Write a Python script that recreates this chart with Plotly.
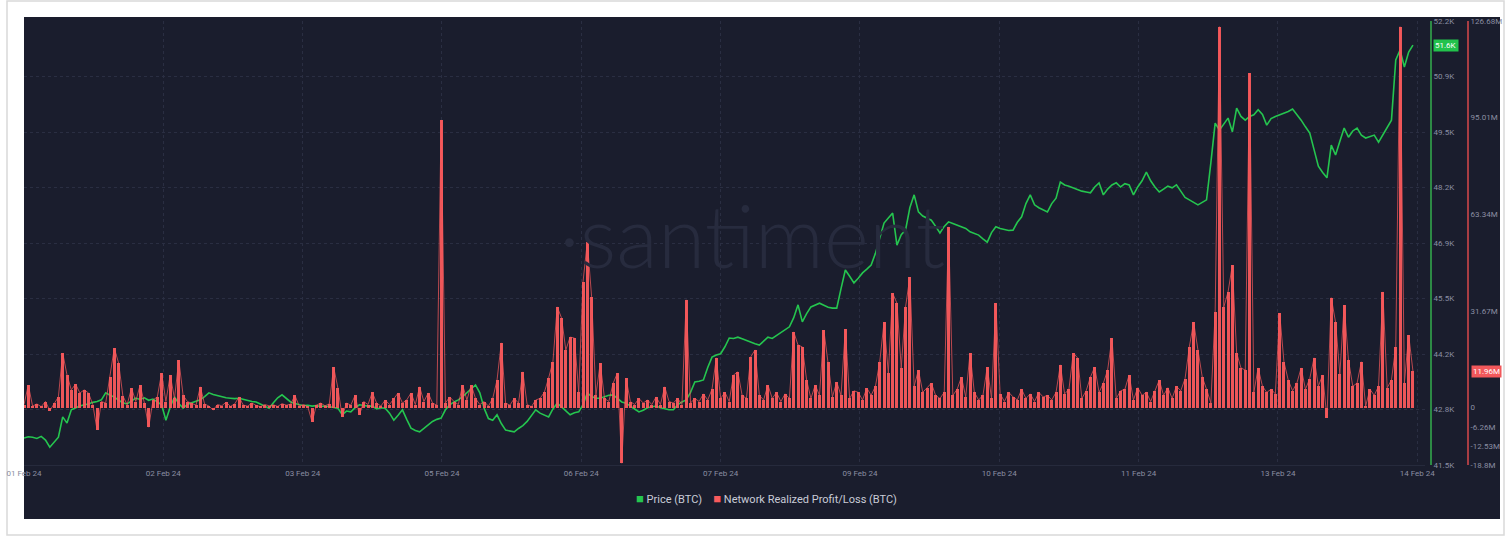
import pandas as pd
import plotly.graph_objects as go

# ---------------- data (hourly, starting 01 Feb 2024 00:00) ----------------
start_time = "2024-02-01 00:00"

price_k = [
    # 01 Feb
    42.15, 42.18, 42.17, 42.14, 42.19, 42.10, 41.93, 42.05, 42.17, 42.66, 42.51, 42.83,
    42.88, 42.92, 42.95, 42.97, 43.01, 43.03, 43.07, 43.24, 43.18, 43.14, 43.06, 43.00,
    # 02 Feb
    42.97, 43.05, 43.11, 43.08, 43.12, 43.06, 43.09, 43.02, 42.95, 42.58, 42.90, 43.14,
    42.98, 42.87, 42.96, 43.00, 43.04, 43.07, 43.15, 43.24, 43.20, 43.17, 43.14, 43.12,
    # 03 Feb
    43.11, 43.10, 43.11, 43.08, 43.05, 43.03, 43.02, 42.97, 42.93, 42.87, 43.00, 43.12,
    43.19, 43.10, 43.02, 42.98, 42.95, 42.93, 42.94, 42.92, 42.93, 42.91, 42.92, 42.90,
    # 04 Feb
    42.89, 42.87, 42.71, 42.80, 42.78, 42.88, 42.95, 42.93, 42.92, 42.92, 42.85, 42.88,
    42.87, 42.75, 42.58, 42.70, 42.83, 42.60, 42.39, 42.33, 42.30, 42.38, 42.46, 42.55,
    # 05 Feb
    42.60, 42.63, 42.83, 42.95, 43.02, 43.07, 43.15, 43.25, 43.35, 43.43, 43.24, 42.87,
    42.62, 42.58, 42.71, 42.50, 42.34, 42.32, 42.30, 42.38, 42.45, 42.55, 42.70, 42.83,
    # 06 Feb
    42.75, 42.70, 42.66, 42.85, 42.99, 42.90, 42.80, 42.71, 42.76, 42.78, 42.95, 43.24,
    43.15, 43.11, 43.11, 43.15, 43.18, 43.19, 43.10, 43.02, 42.99, 42.93, 42.85, 42.78,
    # 07 Feb
    42.82, 42.88, 42.90, 42.92, 42.88, 42.85, 42.83, 42.83, 42.95, 43.02, 43.07, 43.25,
    43.50, 43.52, 43.55, 43.85, 44.10, 44.15, 44.18, 44.35, 44.56, 44.55, 44.58, 44.54,
    # 08 Feb
    44.50, 44.45, 44.42, 44.39, 44.48, 44.58, 44.55, 44.62, 44.68, 44.75, 44.83, 45.05,
    45.36, 44.95, 45.15, 45.31, 45.35, 45.40, 45.35, 45.30, 45.28, 45.28, 45.75, 46.20,
    # 09 Feb
    46.05, 45.89, 46.00, 46.13, 46.22, 46.32, 46.60, 47.00, 47.33, 47.45, 47.57, 46.80,
    47.05, 47.16, 47.70, 48.01, 47.60, 47.50, 47.45, 47.40, 47.25, 47.09, 47.25, 47.36,
    # 10 Feb
    47.32, 47.28, 47.24, 47.20, 47.12, 47.08, 47.04, 46.95, 46.87, 47.10, 47.24, 47.20,
    47.18, 47.15, 47.16, 47.35, 47.48, 47.80, 48.01, 47.77, 47.70, 47.65, 47.60, 47.80,
    # 11 Feb
    47.93, 48.32, 48.25, 48.22, 48.18, 48.15, 48.10, 48.08, 48.06, 48.20, 48.30, 48.01,
    48.15, 48.25, 48.30, 48.20, 48.28, 48.25, 48.01, 48.20, 48.35, 48.56, 48.35, 48.20,
    # 12 Feb
    48.08, 48.15, 48.22, 48.18, 48.25, 48.10, 47.95, 47.89, 47.82, 47.77, 47.83, 47.89,
    48.78, 49.74, 49.57, 49.72, 49.86, 49.53, 50.10, 49.90, 49.81, 49.90, 49.94, 50.06,
    # 13 Feb
    49.95, 49.69, 49.85, 49.90, 49.94, 49.98, 50.02, 50.08, 49.95, 49.81, 49.65, 49.50,
    49.10, 48.70, 48.55, 48.42, 49.21, 48.97, 49.30, 49.62, 49.40, 49.55, 49.62, 49.45,
    # 14 Feb
    49.38, 49.42, 49.45, 49.28, 49.45, 49.62, 49.81, 51.26, 51.50, 51.09, 51.45, 51.62,
]

net_m = [
    # 01 Feb
    1.0, 7.4, 0.5, 1.2, 0.3, 2.0, -1.0, 1.5, 3.5, 17.9, 10.7, 5.8,
    7.7, 4.8, 5.8, 4.8, 1.0, -7.3, 2.0, 1.5, 10.0, 19.5, 14.6, 3.8,
    # 02 Feb
    1.0, 6.4, 2.0, 7.4, 1.5, -6.4, 2.5, 3.5, 11.3, 2.0, 10.7, 3.0,
    15.6, 4.0, 2.0, 1.5, 0.8, 6.8, 1.2, 0.5, -0.8, 1.0, 0.6, 1.8,
    # 03 Feb
    0.4, 1.2, 3.5, 0.8, 0.5, 1.5, 0.7, 0.3, 1.0, 0.6, 0.9, 0.4,
    1.3, 0.8, 1.1, 4.0, 0.5, 1.0, 0.3, -4.7, 0.8, 1.5, 0.6, 1.2,
    # 04 Feb
    13.3, 6.4, -3.0, 1.5, 0.8, 4.0, -2.4, 2.0, 1.0, 5.0, 1.5, 0.5,
    2.5, 1.0, 3.0, 4.8, 1.5, 2.5, 4.8, 1.0, 6.8, 2.0, 4.8, 1.5,
    # 05 Feb
    0.8, 94.2, 1.5, 3.5, 2.0, 1.0, 7.4, 2.5, 7.4, 3.0, 1.0, 2.0,
    0.5, 3.0, 9.0, 21.2, 1.5, 0.8, 3.0, 1.5, 11.7, 1.0, 0.3, 2.5,
    # 06 Feb
    3.0, 5.0, 9.7, 15.0, 33.0, 29.4, 18.9, 23.1, 22.8, 5.0, 41.2, 54.3,
    36.3, 4.0, 14.6, 3.0, 2.0, 8.0, 11.3, -18.2, 9.7, 2.0, 1.0, 3.0,
    # 07 Feb
    1.5, 2.5, 1.0, 3.5, 1.0, 6.8, 2.0, 1.5, 3.0, 1.0, 35.3, 1.5,
    3.0, 2.0, 4.5, 2.5, 6.0, 16.3, 3.0, 5.0, 2.0, 10.7, 11.7, 4.0,
    # 08 Feb
    3.0, 16.6, 18.9, 4.0, 2.5, 7.4, 3.0, 5.0, 2.0, 4.5, 3.0, 24.8,
    20.5, 19.9, 9.0, 3.0, 7.4, 4.0, 25.4, 15.0, 3.5, 8.4, 4.0, 25.7,
    # 09 Feb
    3.0, 5.5, 5.0, 2.5, 6.4, 4.0, 7.0, 15.0, 28.0, 11.3, 37.5, 34.2,
    13.0, 32.9, 42.8, 7.0, 12.3, 5.0, 6.5, 8.0, 4.0, 3.0, 5.0, 59.2,
    # 10 Feb
    4.0, 6.0, 10.0, 3.5, 17.9, 5.0, 2.5, 4.0, 13.3, 3.0, 34.2, 4.5,
    2.0, 5.0, 3.5, 2.5, 6.0, 3.0, 4.5, 2.0, 5.0, 3.5, 4.0, 2.5,
    # 11 Feb
    5.0, 14.0, 4.5, 6.0, 17.9, 16.3, 3.0, 5.5, 10.0, 13.3, 5.0, 8.0,
    12.3, 22.8, 3.0, 5.5, 6.0, 10.7, 2.5, 6.5, 4.0, 5.0, 2.0, 5.5,
    # 12 Feb
    9.0, 4.0, 6.5, 3.0, 7.0, 5.5, 9.5, 19.9, 28.0, 18.9, 10.0, 6.0,
    1.5, 31.3, 124.8, 32.9, 37.9, 46.7, 17.9, 13.0, 12.3, 109.6, 5.0, 13.0,
    # 13 Feb
    7.0, 5.0, 6.0, 4.5, 31.0, 15.0, 9.0, 5.5, 8.0, 13.0, 6.0, 9.5,
    16.3, 7.0, 10.7, -3.4, 36.0, 28.0, 11.0, 33.6, 15.6, 7.0, 8.0, 15.0,
    # 14 Feb
    0.5, 6.0, 4.0, 7.0, 37.9, 6.5, 9.0, 19.9, 124.8, 8.0, 23.8, 11.96,
]

price_tick_values = [41.5, 42.8375, 44.175, 45.5125, 46.85, 48.1875, 49.525, 50.8625, 52.2]
price_tick_labels = ["41.5K", "42.8K", "44.2K", "45.5K", "46.9K", "48.2K", "49.5K", "50.9K", "52.2K"]
net_tick_values = [-18.8, -12.53, -6.26, 0, 31.67, 63.34, 95.01, 126.68]
net_tick_labels = ["-18.8M", "-12.53M", "-6.26M", "0", "31.67M", "63.34M", "95.01M", "126.68M"]

price_name = "Price (BTC)"
net_name = "Network Realized Profit/Loss (BTC)"

# ---------------- styling ----------------
W, H = 1511, 536
L, R, T, B = 24, 11, 21, 71
PW = W - L - R
PH = H - T - B

def px_x(px):
    return (px - L) / PW

def px_y(py):
    return (H - B - py) / PH

BG = "#1a1d2d"
GREEN = "#25c54f"
RED = "#f95a5c"
GRID = "#2a2e42"
TICK = "#8a8ea2"
FONT = "Roboto"

times = pd.date_range(start_time, periods=len(price_k), freq="h")
t0 = pd.Timestamp(start_time)
x_end = t0 + pd.Timedelta(hours=325.8)
HOUR_MS = 3600 * 1000

fig = go.Figure()

fig.add_trace(go.Scatter(
    x=times, y=price_k, mode="lines", line=dict(color=GREEN, width=1.6),
    yaxis="y", showlegend=False, name=price_name))
fig.add_trace(go.Bar(
    x=times, y=net_m, width=0.7 * HOUR_MS, marker=dict(color=RED, line=dict(width=0)),
    opacity=0.95, yaxis="y2", showlegend=False, name=net_name))
fig.add_trace(go.Scatter(
    x=times, y=net_m, mode="lines", line=dict(color=RED, width=0.9),
    opacity=0.8, yaxis="y2", showlegend=False, name=net_name, hoverinfo="skip"))

dom_end = px_x(1425)

legend_text = (
    f"<span style='color:{GREEN};font-size:13px'>\u25a0</span> {price_name}"
    f"\u2003<span style='color:{RED};font-size:13px'>\u25a0</span> {net_name}"
)

fig.update_layout(
    width=W, height=H,
    margin=dict(l=L, r=R, t=T, b=B),
    paper_bgcolor="white",
    plot_bgcolor="rgba(0,0,0,0)",
    font=dict(family=FONT, size=8, color=TICK),
    showlegend=False,
    bargap=0,
    xaxis=dict(
        type="date", domain=[0, dom_end], range=[t0, x_end],
        tick0=t0, dtick=32.4 * HOUR_MS, tickformat="%d %b %y",
        showgrid=True, gridcolor=GRID, griddash="dot", gridwidth=1,
        showline=True, linecolor="#262a3c", zeroline=False,
        ticks="", tickfont=dict(size=8, color=TICK), automargin=False,
    ),
    yaxis=dict(
        range=[41.5, 52.2], side="right", anchor="free", position=px_x(1431),
        tickvals=price_tick_values, ticktext=price_tick_labels,
        showgrid=True, gridcolor=GRID, griddash="dot",
        showline=True, linecolor="#2d8a45", linewidth=2,
        zeroline=False, ticks="", tickfont=dict(size=8, color=TICK), automargin=False,
    ),
    yaxis2=dict(
        range=[-18.8, 126.68], side="right", overlaying="y", anchor="free",
        position=px_x(1468),
        tickvals=net_tick_values, ticktext=net_tick_labels,
        showgrid=False, zeroline=False,
        showline=True, linecolor="#a83d43", linewidth=2,
        ticks="", tickfont=dict(size=8, color=TICK), automargin=False,
    ),
    shapes=[
        dict(type="rect", xref="paper", yref="paper", layer="below",
             x0=px_x(24), x1=px_x(1500), y0=px_y(519), y1=px_y(17),
             fillcolor=BG, line=dict(width=0)),
        dict(type="rect", xref="paper", yref="paper", layer="below",
             x0=px_x(7), x1=px_x(1504), y0=px_y(535), y1=px_y(1),
             fillcolor="rgba(0,0,0,0)", line=dict(color="#d9d9d9", width=1.5)),
    ],
    annotations=[
        dict(text="\u00b7santiment", xref="paper", yref="paper",
             x=px_x(752), y=px_y(235), xanchor="center", yanchor="middle",
             showarrow=False,
             font=dict(family="Lato", size=86, color="#272b3e", weight=300)),
        dict(text=legend_text, xref="paper", yref="paper",
             x=px_x(766), y=px_y(499), xanchor="center", yanchor="middle",
             showarrow=False, font=dict(size=11, color="#c9ccd8", family=FONT)),
        dict(text=f"{price_k[-1]:.1f}K", xref="paper", yref="y",
             x=px_x(1433), y=price_k[-1], xanchor="left", yanchor="middle",
             showarrow=False, bgcolor="#22c24c", borderpad=1,
             font=dict(size=8, color="white", family=FONT)),
        dict(text=f"{net_m[-1]:.2f}M", xref="paper", yref="y2",
             x=px_x(1471), y=net_m[-1], xanchor="left", yanchor="middle",
             showarrow=False, bgcolor="#f2585b", borderpad=1,
             font=dict(size=8, color="white", family=FONT)),
    ],
)

fig.write_html(
    "out.html",
    config={"displayModeBar": False},
    post_script="document.body.style.margin='0px';document.body.style.overflow='hidden';",
)
